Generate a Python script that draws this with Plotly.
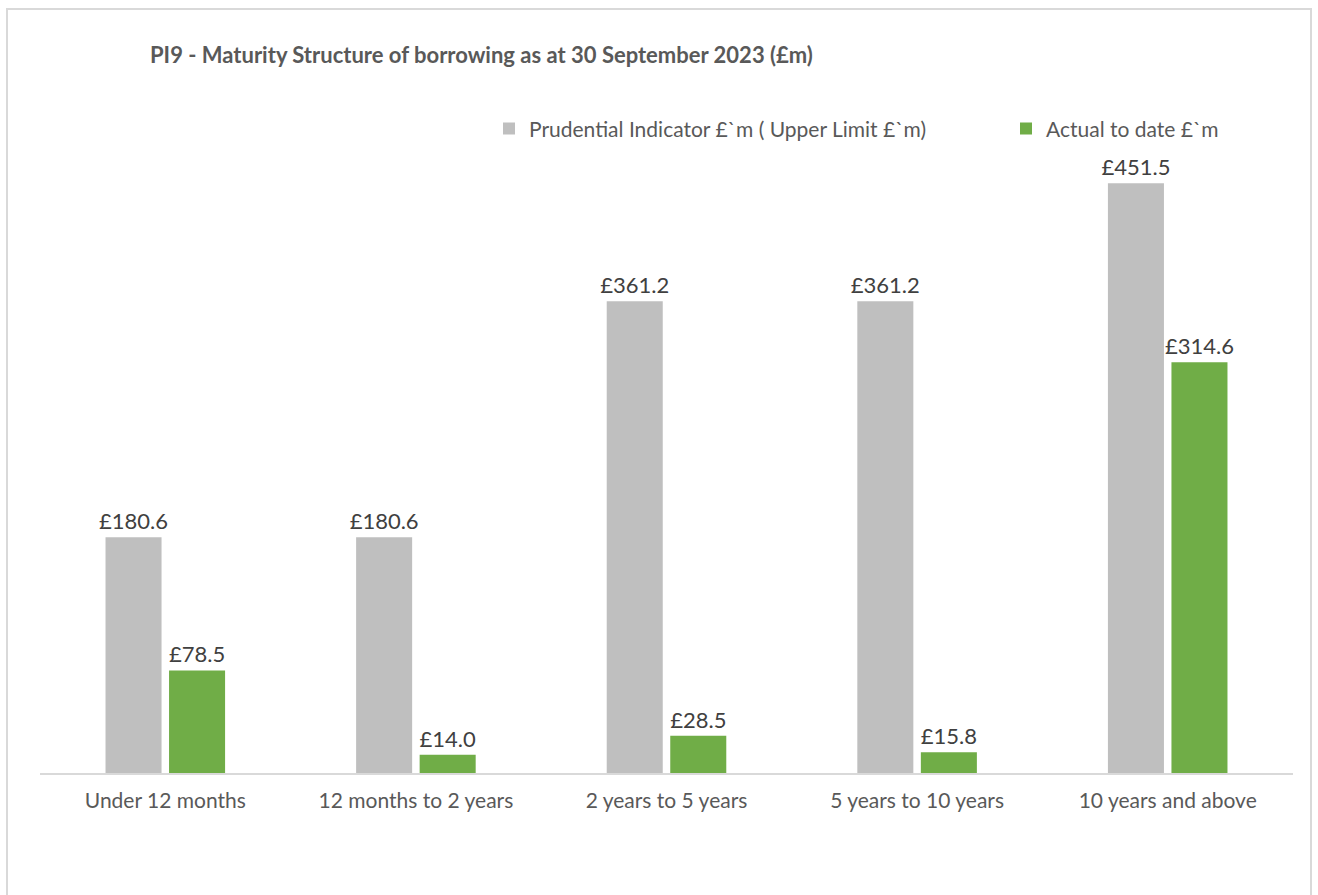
import plotly.graph_objects as go

categories = ["Under 12 months", "12 months to 2 years", "2 years to 5 years",
              "5 years to 10 years", "10 years and above"]
prudential = [180.6, 180.6, 361.2, 361.2, 451.5]
actual = [78.5, 14.0, 28.5, 15.8, 314.6]
series_names = ["Prudential Indicator £`m ( Upper Limit £`m)", "Actual to date £`m"]

FONT = "Lato, Open Sans, sans-serif"

fig = go.Figure()
fig.add_trace(go.Bar(
    x=categories, y=prudential, name=series_names[0], legend="legend",
    marker=dict(color="#bfbfbf", line=dict(width=0)),
    text=[f"£{v:.1f}" for v in prudential], textposition="outside", constraintext="none",
    textfont=dict(size=22, color="#404040", family=FONT), cliponaxis=False,
))
fig.add_trace(go.Bar(
    x=categories, y=actual, name=series_names[1], legend="legend2",
    marker=dict(color="#70ad47", line=dict(width=0)),
    text=[f"£{v:.1f}" for v in actual], textposition="outside", constraintext="none",
    textfont=dict(size=22, color="#404040", family=FONT), cliponaxis=False,
))

legend_common = dict(orientation="h", y=1.018, yanchor="top", xanchor="left",
                     font=dict(size=21, color="#595959", family=FONT),
                     bgcolor="rgba(0,0,0,0)")

fig.update_layout(
    width=1318, height=895,
    margin=dict(l=40, r=25, t=120, b=122, autoexpand=False),
    paper_bgcolor="white", plot_bgcolor="white",
    font=dict(family=FONT, color="#595959", size=17),
    showlegend=True,
    barmode="group", bargap=0.493, bargroupgap=0.118,
    title=dict(text="<b>PI9 - Maturity Structure of borrowing as at 30 September 2023 (£m)</b>",
               x=150/1318, xanchor="left", y=1-55/895, yanchor="middle",
               font=dict(size=22, color="#595959", family=FONT)),
    legend=dict(x=(489-40)/1253, **legend_common),
    legend2=dict(x=(1006-40)/1253, **legend_common),
    xaxis=dict(showline=True, linecolor="#d9d9d9", linewidth=2, ticks="",
               tickfont=dict(size=21, color="#595959"), showgrid=False,
               ticklabelstandoff=8),
    yaxis=dict(range=[0, 500], visible=False, showgrid=False),
    shapes=[dict(type="rect", xref="paper", yref="paper",
                 x0=(7-40)/1253, x1=(1311-40)/1253, y0=(773-905)/653, y1=(773-9)/653,
                 line=dict(color="#d9d9d9", width=2), fillcolor="rgba(0,0,0,0)", layer="below")],
)

fig.write_html("out.html", config={"displayModeBar": False},
               post_script="document.body.style.margin='0px';")
